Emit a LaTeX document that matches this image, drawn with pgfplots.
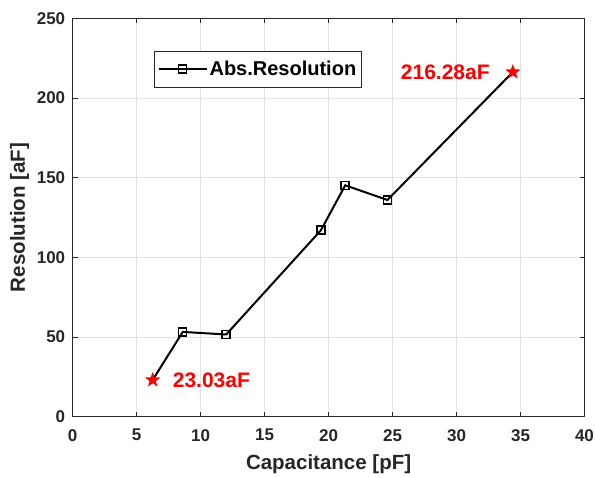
\documentclass[border=0pt]{standalone}
\usepackage{fontspec}
\setmainfont{Liberation Sans}
\usepackage{pgfplots}
\pgfplotsset{compat=1.18}
\definecolor{axgray}{HTML}{262626}
\definecolor{gridgray}{HTML}{E3E3E3}
% filled five-pointed star
\pgfdeclareplotmark{fstar}{%
  \pgfpathmoveto{\pgfpointpolar{90}{\pgfplotmarksize}}%
  \pgfpathlineto{\pgfpointpolar{126}{0.42\pgfplotmarksize}}%
  \pgfpathlineto{\pgfpointpolar{162}{\pgfplotmarksize}}%
  \pgfpathlineto{\pgfpointpolar{198}{0.42\pgfplotmarksize}}%
  \pgfpathlineto{\pgfpointpolar{234}{\pgfplotmarksize}}%
  \pgfpathlineto{\pgfpointpolar{270}{0.42\pgfplotmarksize}}%
  \pgfpathlineto{\pgfpointpolar{306}{\pgfplotmarksize}}%
  \pgfpathlineto{\pgfpointpolar{342}{0.42\pgfplotmarksize}}%
  \pgfpathlineto{\pgfpointpolar{18}{\pgfplotmarksize}}%
  \pgfpathlineto{\pgfpointpolar{54}{0.42\pgfplotmarksize}}%
  \pgfpathclose
  \pgfusepathqfill}
\begin{document}
\begin{tikzpicture}
\useasboundingbox (-72.7bp,-61.3bp) rectangle (522.3bp,416.7bp);
\begin{axis}[
  at={(0,0)}, anchor=south west,
  scale only axis,
  width=511.8bp, height=398.4bp,
  xmin=0, xmax=40, ymin=0, ymax=250,
  xtick={0,5,...,40}, ytick={0,50,...,250},
  tick align=inside,
  major tick length=5bp,
  grid=major,
  major grid style={gridgray, line width=0.6pt},
  axis line style={axgray, line width=0.8pt},
  every tick/.style={axgray, line width=0.8pt},
  tick label style={font=\fontsize{17bp}{20bp}\selectfont\bfseries, text=axgray},
  xticklabel style={yshift=-9bp},
  yticklabel style={xshift=-4bp},
  /pgf/number format/assume math mode=true,
  xlabel={Capacitance [pF]},
  ylabel={Resolution [aF]},
  every axis x label/.style={at={(axis description cs:0.5,0)}, anchor=center, yshift=-47bp},
  every axis y label/.style={at={(axis description cs:-0.1036,0.5)}, anchor=center, rotate=90},
  label style={font=\fontsize{20.5bp}{24bp}\selectfont\bfseries, text=axgray},
  legend style={at={(0.1594,0.9187)}, anchor=north west, draw=axgray, line width=0.6pt,
    font=\fontsize{20bp}{24bp}\selectfont\bfseries, text=black, inner xsep=3bp, inner ysep=8bp},
  legend image code/.code={\draw[mark indices={2}] plot coordinates {(0bp,0bp) (24bp,0bp) (48bp,0bp)};},
  legend cell align=left,
]
\addplot[black, line width=2bp, mark=square, mark size=4bp, mark options={line width=1.5bp},
  mark indices={2,3,4,5,6}]
  coordinates {(6.25,23.03)(8.6,53.2)(12.0,51.6)(19.4,117)(21.3,145.2)(24.6,136)(34.4,216.28)};
\addlegendentry{Abs.Resolution}
\addplot[only marks, mark=fstar, mark size=8bp, red, forget plot]
  coordinates {(6.25,23.03)(34.4,216.28)}
  node[pos=0, anchor=west, inner sep=0pt, xshift=20bp, text=red, font=\fontsize{21bp}{24bp}\selectfont\bfseries] {23.03aF}
  node[pos=1, anchor=east, inner sep=0pt, xshift=-23bp, text=red, font=\fontsize{21bp}{24bp}\selectfont\bfseries] {216.28aF};
\end{axis}
\end{tikzpicture}
\end{document}
